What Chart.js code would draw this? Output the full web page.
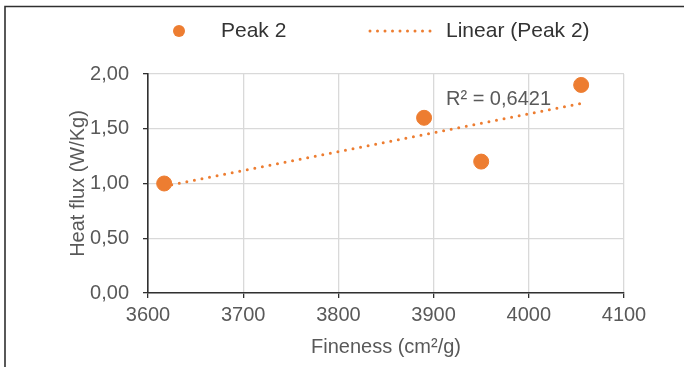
<!DOCTYPE html>
<html>
<head>
<meta charset="utf-8">
<script src="https://cdn.jsdelivr.net/npm/chart.js@4/dist/chart.umd.min.js"></script>
<style>
  html, body { margin: 0; padding: 0; background: #fff; overflow: hidden; }
  #wrap { width: 684px; height: 367px; position: relative; }
</style>
</head>
<body>
<div id="wrap"><canvas id="heat" width="684" height="367"></canvas></div>
<script>
// data
const fineness = [3617, 3890, 3950, 4055];
const heatFlux = [1.0, 1.6, 1.2, 1.9];
// trend line end points (Excel linear fit)
const trendX = [3617, 4055];
const trendY = [0.974, 1.731];
const rSquared = 'R² = 0,6421';
const xTicks = ['3600', '3700', '3800', '3900', '4000', '4100'];
const yTicks = ['0,00', '0,50', '1,00', '1,50', '2,00'];

const orange = '#ED7D31';
const grey = '#595959';
const fontName = '"Liberation Sans", Arial, sans-serif';

const frame = {
    id: 'frame',
    beforeDraw(chart) {
        const c = chart.ctx;
        c.save();
        c.strokeStyle = '#303030';
        c.lineWidth = 1.6;
        c.beginPath();
        c.moveTo(5, 367);
        c.lineTo(5, 6.5);
        c.lineTo(684, 6.5);
        c.stroke();
        c.restore();
    }
};

const extras = {
    id: 'extras',
    afterDraw(chart) {
        const c = chart.ctx;
        const ds = chart.data.datasets;
        c.save();
        // legend
        c.font = '21px ' + fontName;
        c.textBaseline = 'middle';
        c.textAlign = 'left';
        c.fillStyle = orange;
        c.beginPath();
        c.arc(179, 31, 6, 0, Math.PI * 2);
        c.fill();
        c.fillStyle = '#333333';
        c.fillText(ds[0].label, 221, 31);
        c.strokeStyle = orange;
        c.lineWidth = 3;
        c.lineCap = 'round';
        c.setLineDash([0, 7.5]);
        c.beginPath();
        c.moveTo(370, 31);
        c.lineTo(437, 31);
        c.stroke();
        c.setLineDash([]);
        c.fillStyle = '#333333';
        c.fillText(ds[1].label, 446, 31);
        // R² label
        const xs = chart.scales.x, ys = chart.scales.y;
        c.font = '20px ' + fontName;
        c.fillStyle = grey;
        c.fillText(rSquared, xs.getPixelForValue(3913), ys.getPixelForValue(1.763));
        c.restore();
    }
};

new Chart(document.getElementById('heat'), {
    type: 'scatter',
    data: {
        datasets: [{
            label: 'Peak 2',
            data: fineness.map((v, i) => ({x: v, y: heatFlux[i]})),
            backgroundColor: orange,
            borderColor: orange,
            pointRadius: 7.5,
            pointHoverRadius: 7.5,
            order: 1
        }, {
            type: 'line',
            label: 'Linear (Peak 2)',
            data: trendX.map((v, i) => ({x: v, y: trendY[i]})),
            borderColor: orange,
            borderWidth: 3,
            borderDash: [0, 7.7],
            borderCapStyle: 'round',
            pointRadius: 0,
            fill: false,
            order: 2
        }]
    },
    options: {
        responsive: false,
        animation: false,
        devicePixelRatio: 1,
        layout: { padding: { left: 62, right: 60, top: 74, bottom: 4 } },
        plugins: { legend: { display: false }, tooltip: { enabled: false } },
        scales: {
            x: {
                type: 'linear',
                min: 3600,
                max: 4100,
                afterFit(s) { s.height = 70; },
                ticks: {
                    stepSize: 100,
                    color: grey,
                    padding: 5,
                    maxRotation: 0,
                    autoSkip: false,
                    font: { family: fontName, size: 20 },
                    callback: (v) => xTicks[Math.round((v - 3600) / 100)]
                },
                grid: { color: '#d9d9d9', lineWidth: 1.3, tickColor: '#303030', tickLength: 5 },
                border: { color: '#303030', width: 1.6 },
                title: {
                    display: true,
                    text: 'Fineness (cm²/g)',
                    color: grey,
                    font: { family: fontName, size: 20, lineHeight: 1.2 },
                    padding: { top: 0, bottom: 4 }
                }
            },
            y: {
                min: 0,
                max: 2,
                afterFit(s) { s.width = 86; },
                ticks: {
                    stepSize: 0.5,
                    color: grey,
                    padding: 14,
                    autoSkip: false,
                    font: { family: fontName, size: 20 },
                    callback: (v) => yTicks[Math.round(v / 0.5)]
                },
                grid: { color: '#d9d9d9', lineWidth: 1.3, tickColor: '#303030', tickLength: 5 },
                border: { color: '#303030', width: 1.6 },
                title: {
                    display: true,
                    text: 'Heat flux (W/Kg)',
                    color: grey,
                    font: { family: fontName, size: 20, lineHeight: 1.2 },
                    padding: { top: 4, bottom: 0 }
                }
            }
        }
    },
    plugins: [frame, extras]
});
</script>
</body>
</html>
